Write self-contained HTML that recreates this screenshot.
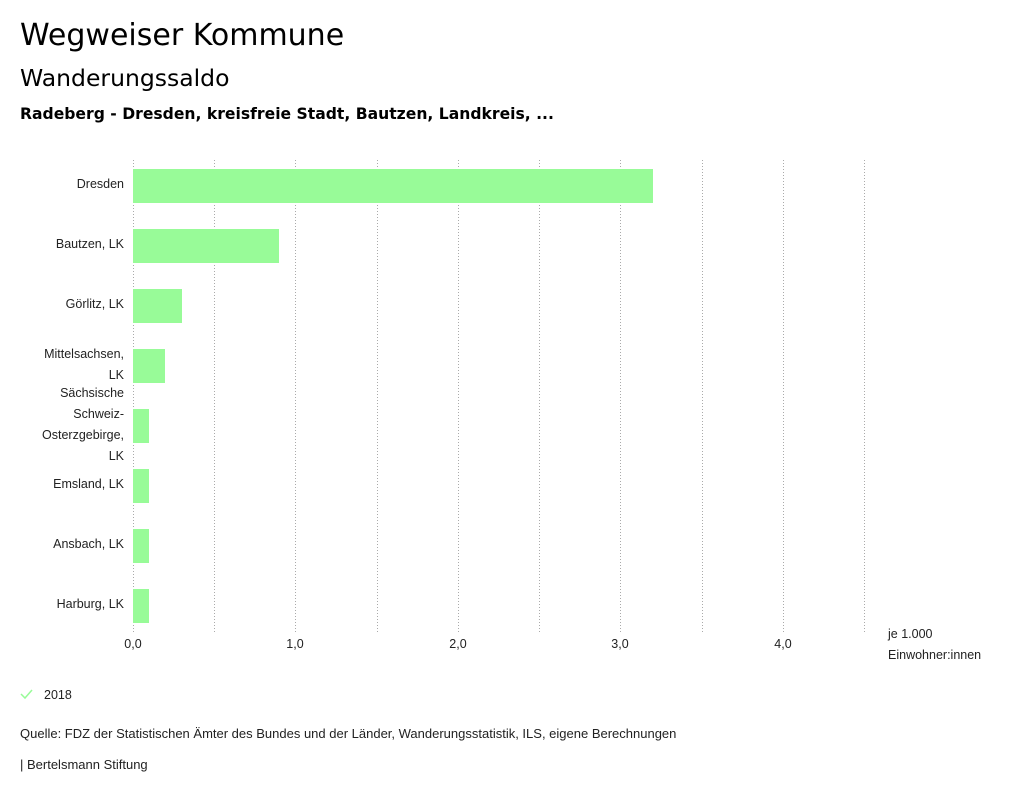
<!DOCTYPE html>
<html><head><meta charset="utf-8"><style>
body{margin:0;width:1024px;height:797px;background:#fff;font-family:"DejaVu Sans","Liberation Sans",sans-serif;color:#000;position:relative;overflow:hidden}
.t{position:absolute;white-space:nowrap}
</style></head><body>
<div class="t" style="left:20px;top:18px;font-size:30px">Wegweiser Kommune</div>
<div class="t" style="left:20px;top:64px;font-size:23.5px">Wanderungssaldo</div>
<div class="t" style="left:20px;top:105px;font-size:15.6px;font-weight:bold">Radeberg - Dresden, kreisfreie Stadt, Bautzen, Landkreis, ...</div>
<svg width="1024" height="797" style="position:absolute;left:0;top:0" font-family="Liberation Sans, sans-serif" font-size="12.5" fill="#222">
<g stroke="#aaa" stroke-dasharray="1,2" stroke-width="1">
<line x1="133.5" y1="160" x2="133.5" y2="632"/><line x1="214.5" y1="160" x2="214.5" y2="632"/><line x1="295.5" y1="160" x2="295.5" y2="632"/><line x1="377.5" y1="160" x2="377.5" y2="632"/><line x1="458.5" y1="160" x2="458.5" y2="632"/><line x1="539.5" y1="160" x2="539.5" y2="632"/><line x1="620.5" y1="160" x2="620.5" y2="632"/><line x1="702.5" y1="160" x2="702.5" y2="632"/><line x1="783.5" y1="160" x2="783.5" y2="632"/><line x1="864.5" y1="160" x2="864.5" y2="632"/>
</g>
<g fill="#98fb98">
<rect x="133" y="169" width="520" height="34"/><rect x="133" y="229" width="146" height="34"/><rect x="133" y="289" width="49" height="34"/><rect x="133" y="349" width="32" height="34"/><rect x="133" y="409" width="16" height="34"/><rect x="133" y="469" width="16" height="34"/><rect x="133" y="529" width="16" height="34"/><rect x="133" y="589" width="16" height="34"/>
</g>
<g text-anchor="end">
<text x="124" y="188">Dresden</text><text x="124" y="248">Bautzen, LK</text><text x="124" y="308">Görlitz, LK</text>
<text x="124" y="358">Mittelsachsen,</text><text x="124" y="379">LK</text>
<text x="124" y="397">Sächsische</text><text x="124" y="418">Schweiz-</text><text x="124" y="439">Osterzgebirge,</text><text x="124" y="460">LK</text>
<text x="124" y="488">Emsland, LK</text><text x="124" y="548">Ansbach, LK</text><text x="124" y="608">Harburg, LK</text>
</g>
<g text-anchor="middle"><text x="133" y="648">0,0</text><text x="295" y="648">1,0</text><text x="458" y="648">2,0</text><text x="620" y="648">3,0</text><text x="783" y="648">4,0</text></g>
<text x="888" y="638">je 1.000</text><text x="888" y="659">Einwohner:innen</text>
<path d="M21 694 l4 4 l7 -8" stroke="#98fb98" stroke-width="1.5" fill="none"/>
<text x="44" y="699">2018</text>
<text x="20" y="738" font-size="13">Quelle: FDZ der Statistischen Ämter des Bundes und der Länder, Wanderungsstatistik, ILS, eigene Berechnungen</text>
<text x="20" y="769" font-size="13">| Bertelsmann Stiftung</text>
</svg>
</body></html>
